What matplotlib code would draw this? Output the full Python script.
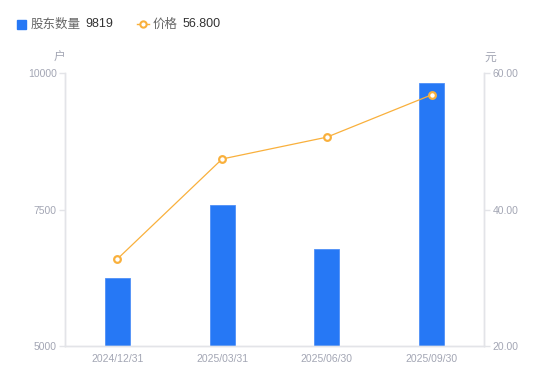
import matplotlib
matplotlib.use("Agg")
import matplotlib.pyplot as plt
from matplotlib.lines import Line2D
from matplotlib.patches import Rectangle

# ============================
# Datos
# ============================
dates = ["2024/12/31", "2025/03/31", "2025/06/30", "2025/09/30"]
holders = [6245, 7580, 6780, 9819]
price = [32.75, 47.40, 50.60, 56.80]

holder_ticks = [5000, 7500, 10000]
price_ticks = [20.0, 40.0, 60.0]

BLUE = "#2678F5"
ORANGE = "#F9B03C"
GRID = "#E3E4E8"
TICK = "#A3A6B4"
DARK = "#333333"
CJK = ["Noto Sans CJK SC", "DejaVu Sans"]
LAT = ["Liberation Sans", "DejaVu Sans"]

W, H = 550, 381
fig = plt.figure(figsize=(W / 100, H / 100), dpi=100)
ax = fig.add_axes([65 / W, 1 - 346 / H, (484 - 65) / W, (346 - 73) / H])
ax2 = ax.twinx()

x = range(len(dates))
ax.bar(x, holders, width=0.24, color=BLUE, edgecolor="#4F8FF7",
       linewidth=0.6, zorder=2)
ax.set_xlim(-0.5, len(dates) - 0.5)
ax.set_ylim(holder_ticks[0], holder_ticks[-1])
ax.set_yticks(holder_ticks)
ax.set_yticklabels([str(v) for v in holder_ticks], fontfamily=LAT)
ax.set_xticks(list(x))
ax.set_xticklabels(dates, fontfamily=LAT)

ax2.plot(x, price, color=ORANGE, lw=0.9, marker="o", markersize=4.8,
         markerfacecolor="white", markeredgecolor=ORANGE, markeredgewidth=1.6,
         zorder=3)
ax2.set_ylim(price_ticks[0], price_ticks[-1])
ax2.set_yticks(price_ticks)
ax2.set_yticklabels([f"{v:.2f}" for v in price_ticks], fontfamily=LAT)

for a in (ax, ax2):
    for s in a.spines.values():
        s.set_color(GRID)
        s.set_linewidth(1)
    a.spines["top"].set_visible(False)
    a.tick_params(axis="y", colors=GRID, labelcolor=TICK, labelsize=7.5,
                  length=4, width=1, pad=2)
ax.tick_params(axis="x", length=0, labelcolor=TICK, labelsize=7.5, pad=6)

# unidades
fig.text(59 / W, 1 - 57 / H, "户", fontfamily=CJK, fontsize=8.5,
         color=TICK, ha="center", va="center")
fig.text(490 / W, 1 - 57 / H, "元", fontfamily=CJK, fontsize=8.5,
         color=TICK, ha="center", va="center")

# leyenda
ly = 1 - 24 / H
fig.patches.append(Rectangle((17 / W, 1 - 28.5 / H), 8.5 / W, 8.5 / H,
                             transform=fig.transFigure, color=BLUE,
                             figure=fig))
fig.text(31 / W, ly, "股东数量", fontfamily=CJK, fontsize=9,
         color="#666666", va="center")
fig.text(85 / W, ly, str(holders[-1]), fontfamily=LAT, fontsize=9,
         color=DARK, va="center")
fig.lines.append(Line2D([137 / W, 149 / W], [ly, ly],
                        transform=fig.transFigure, color=ORANGE, lw=1))
fig.lines.append(Line2D([143 / W], [ly], transform=fig.transFigure,
                        color=ORANGE, marker="o", markersize=4.5,
                        markerfacecolor="white", markeredgewidth=1.5))
fig.text(153 / W, ly, "价格", fontfamily=CJK, fontsize=9,
         color="#666666", va="center")
fig.text(183 / W, ly, f"{price[-1]:.3f}", fontfamily=LAT, fontsize=9,
         color=DARK, va="center")

fig.savefig("out.png", dpi=100)
